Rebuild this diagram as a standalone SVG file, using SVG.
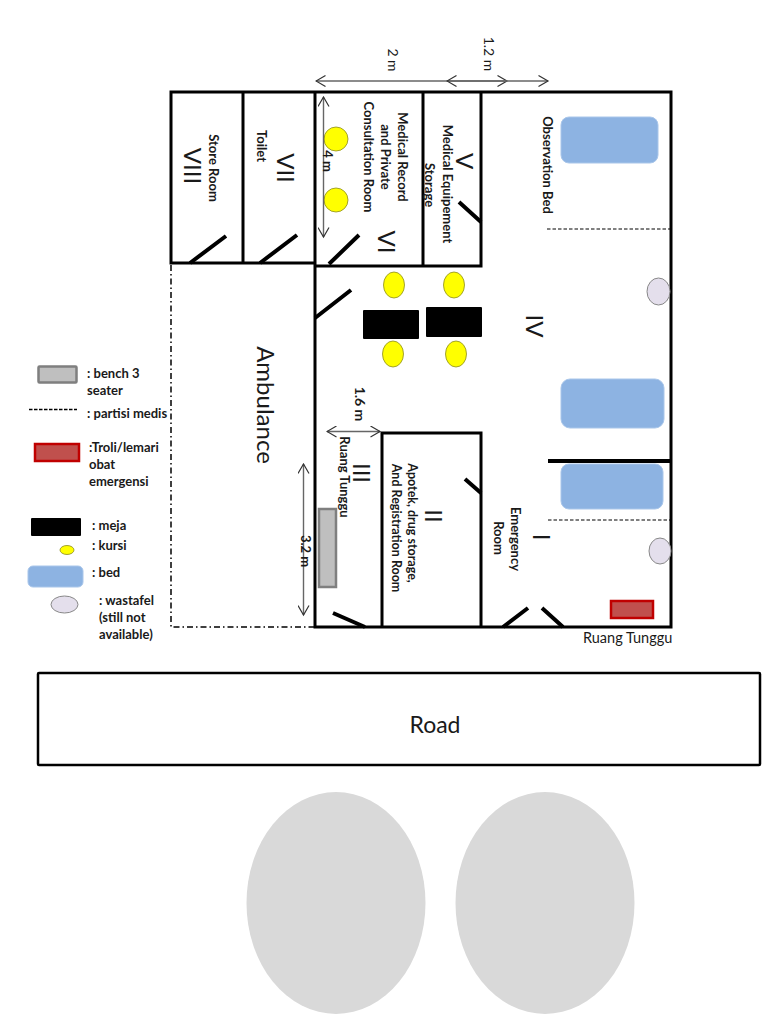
<svg xmlns="http://www.w3.org/2000/svg" width="768" height="1024" viewBox="0 0 768 1024">
<style>
text{font-family:"Lato","Open Sans","Liberation Sans",sans-serif;fill:#1a1a1a;font-size:13px}
.c{text-anchor:middle}
.b{font-weight:700}
.n{font-size:24px}
.m{font-size:14px}
.w{fill:none;stroke:#000;stroke-width:3;stroke-linecap:square}
.d{fill:none;stroke:#000;stroke-width:4}
.dim{fill:none;stroke:#666;stroke-width:1.4;marker-start:url(#a);marker-end:url(#a)}
.dash{fill:none;stroke:#000;stroke-width:1;stroke-dasharray:3.5 2}
.bed{fill:#8db3e2;stroke:#a9c6ea;stroke-width:1}
.ch{fill:#ffff00;stroke:#8a8a20;stroke-width:.8}
.sink{fill:#e4dfec;stroke:#888;stroke-width:1}
.tb{fill:#000}
.tr{fill:#c0504d;stroke:#c00000;stroke-width:2.5}
.bn{fill:#bfbfbf;stroke:#7f7f7f;stroke-width:2.5}
</style>
<defs>
<marker id="a" viewBox="0 0 12 12" refX="10.500" refY="6" markerWidth="12" markerHeight="12" markerUnits="userSpaceOnUse" orient="auto-start-reverse"><path d="M1 .5L10.500 6L1 11.500" fill="none" stroke="#333" stroke-width="1.2"/></marker>
</defs>
<rect width="768" height="1024" fill="#fff"/>

<g id="walls">
<path class="w" d="M171 92H671V627H315V92M171 92V263H315M243 92V263M315 266H481M423 92V266M481 92V266M382 627V433H481V627"/>
<path d="M548 461H671" fill="none" stroke="#000" stroke-width="4"/>
<path d="M171 265V627H315" fill="none" stroke="#000" stroke-width="1.500" stroke-dasharray="6 3 1.5 3"/>
<path class="dash" d="M547 229H670M548 520H670"/>
</g>
<g id="doors">
<path class="d" d="M190 263L226 236M260 263L297 235M329 264L359 235M459 202L481 222M315 318L351 290M465 479L481 493M333 613L365 627M503 627L528 608M542 608L563 627"/>
</g>

<g id="room-viii"><text class="c n" transform="translate(184 166) rotate(90)">VIII</text><text class="c b" transform="translate(209 168) rotate(90)">Store Room</text></g>
<g id="room-vii"><text class="c n" transform="translate(277 168) rotate(90)">VII</text><text class="c b" transform="translate(257 146) rotate(90)">Toilet</text></g>
<g id="room-vi">
<text class="c n" transform="translate(378 242) rotate(90)">VI</text>
<text class="c b" transform="translate(398 157) rotate(90)">Medical Record</text>
<text class="c b" transform="translate(381 157) rotate(90)">and Private</text>
<text class="c b" transform="translate(364 157) rotate(90)">Consultation Room</text>
<ellipse class="ch" cx="336" cy="139" rx="12" ry="12"/><ellipse class="ch" cx="336" cy="200" rx="12" ry="12"/>
</g>
<g id="room-v">
<text class="c n" transform="translate(456 161) rotate(90)">V</text>
<text class="c b" transform="translate(443 184) rotate(90)">Medical Equipement</text>
<text class="c b" transform="translate(425 185) rotate(90)">Storage</text>
</g>
<g id="room-iv">
<text class="c n" transform="translate(526 326) rotate(90)">IV</text>
<text class="c b" transform="translate(543 165) rotate(90)">Observation Bed</text>
<rect class="bed" x="561" y="117" width="97" height="46" rx="8"/>
<rect class="bed" x="561" y="379" width="103" height="49" rx="9"/>
<ellipse class="sink" cx="658.500" cy="291.500" rx="11.500" ry="13.500"/>
<rect class="tb" x="363" y="310" width="56" height="29" rx="1"/>
<rect class="tb" x="426" y="307" width="56" height="30" rx="1"/>
<ellipse class="ch" cx="394" cy="285" rx="10.500" ry="13"/><ellipse class="ch" cx="454" cy="285" rx="10.500" ry="13"/>
<ellipse class="ch" cx="393" cy="354" rx="10.500" ry="13"/><ellipse class="ch" cx="456" cy="354" rx="10.500" ry="13"/>
</g>
<g id="room-iii">
<text class="c n" transform="translate(353 473) rotate(90)">III</text>
<text class="c b" transform="translate(340 477) rotate(90)">Ruang Tunggu</text>
<rect class="bn" x="319" y="509" width="17" height="78"/>
</g>
<g id="room-ii">
<text class="c n" transform="translate(425 516) rotate(90)">II</text>
<text class="c b" style="font-size:12.500px" transform="translate(408 523) rotate(90)">Apotek, drug storage,</text>
<text class="c b" style="font-size:12.500px" transform="translate(392 528) rotate(90)">And Registration Room</text>
</g>
<g id="room-i">
<text class="c n" transform="translate(533 537) rotate(90)">I</text>
<text class="c b" transform="translate(511 539) rotate(90)">Emergency</text>
<text class="c b" transform="translate(494 538) rotate(90)">Room</text>
<rect class="bed" x="561" y="464" width="102" height="45" rx="8"/>
<ellipse class="sink" cx="660" cy="551" rx="11" ry="13"/>
<rect class="tr" x="611" y="601" width="42" height="17"/>
<text x="583" y="643" style="font-size:14.500px">Ruang Tunggu</text>
</g>
<g id="ambulance"><text class="c" style="font-size:24px" transform="translate(257 405) rotate(90)">Ambulance</text></g>

<g id="connectors">
<path class="dim" d="M316 81H507"/>
<path class="dim" d="M447 81H548"/>
<path class="dim" d="M323.500 97V237"/>
<path class="dim" d="M327 431.500H380"/>
<path class="dim" d="M303.500 464V615"/>
</g>
<g id="dimension-labels">
<text class="c m" transform="translate(388 60) rotate(90)">2 m</text>
<text class="c m" transform="translate(484 54) rotate(90)">1.2 m</text>
<text class="c b" transform="translate(323 161) rotate(90)">4 m</text>
<text class="c m b" transform="translate(355 404) rotate(90)">1.6 m</text>
<text class="c b" transform="translate(301 551) rotate(90)">3.2 m</text>
</g>

<g id="legend">
<rect class="bn" x="38.500" y="366.500" width="38" height="16" rx="1"/>
<text class="b" x="87" y="378">: bench 3</text><text class="b" x="87" y="395">seater</text>
<path d="M29 409.500H77" fill="none" stroke="#000" stroke-width="1.500" stroke-dasharray="3.500 1.500"/>
<text class="b" x="87" y="418">: partisi medis</text>
<rect class="tr" x="35" y="444" width="44" height="17"/>
<text class="b" x="89" y="452">:Troli/lemari</text><text class="b" x="89" y="469">obat</text><text class="b" x="89" y="486">emergensi</text>
<rect class="tb" x="31" y="518" width="50" height="18" rx="1"/>
<text class="b" x="92" y="530">: meja</text>
<ellipse class="ch" cx="67" cy="550" rx="7" ry="4.500"/>
<text class="b" x="92" y="550">: kursi</text>
<rect class="bed" x="28" y="566" width="55" height="21" rx="5"/>
<text class="b" x="92" y="577">: bed</text>
<ellipse class="sink" cx="64.500" cy="604.500" rx="13.500" ry="8.500"/>
<text class="b" x="99" y="605">: wastafel</text><text class="b" x="99" y="622">(still not</text><text class="b" x="99" y="639">available)</text>
</g>

<g id="road">
<rect x="38" y="673" width="722" height="92" rx="1" fill="#fff" stroke="#000" stroke-width="2.500"/>
<text class="c" x="435" y="733" style="font-size:23px">Road</text>
</g>
<g id="circle-left"><ellipse cx="336" cy="903" rx="89.500" ry="111" fill="#d9d9d9"/></g>
<g id="circle-right"><ellipse cx="545" cy="903" rx="89.500" ry="111" fill="#d9d9d9"/></g>
</svg>
